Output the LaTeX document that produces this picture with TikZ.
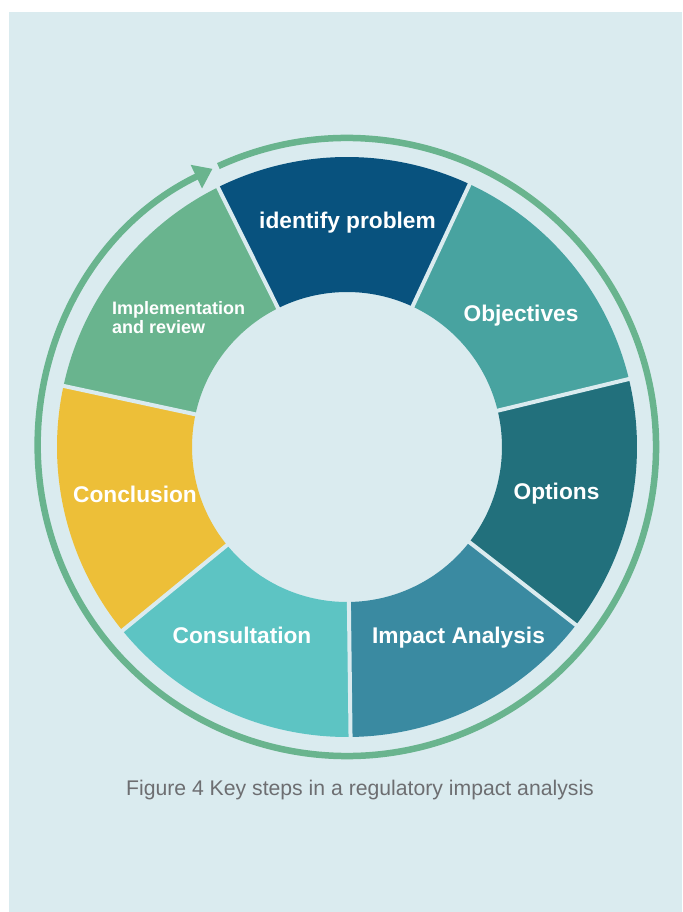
\documentclass[tikz,border=0pt]{standalone}
\usepackage{fontspec}
\setmainfont{Liberation Sans}
\usetikzlibrary{arrows.meta}
\definecolor{bgBlue}{HTML}{DAEBEF}
\definecolor{problemBlue}{HTML}{08527E}
\definecolor{objTeal}{HTML}{48A3A0}
\definecolor{optTeal}{HTML}{22707C}
\definecolor{impactBlue}{HTML}{3A8AA1}
\definecolor{consultCyan}{HTML}{5DC4C3}
\definecolor{conclYellow}{HTML}{EDBF38}
\definecolor{implGreen}{HTML}{69B48E}
\definecolor{captionGray}{HTML}{6D6E71}
\tikzstyle{stepLabel} = [text=white, font=\bfseries\fontsize{22.7}{26}\selectfont, inner sep=0pt, anchor=base]
\tikzstyle{smallLabel} = [text=white, font=\bfseries\fontsize{18}{18.7}\selectfont, inner sep=0pt, align=left, anchor=north west]
\tikzstyle{gap} = [draw=bgBlue, line width=4pt]
\tikzstyle{arrow} = [draw=implGreen, line width=6.5pt, -{Triangle[length=18pt,width=25pt]}]
\tikzstyle{figCaption} = [text=captionGray, font=\fontsize{21.2}{25}\selectfont, inner sep=0pt, anchor=base]
\begin{document}
\begin{tikzpicture}

\useasboundingbox (-347pt,-465pt) rectangle (335pt,447pt);
\fill[bgBlue] (-338pt,-465pt) rectangle (335pt,435pt);

% Ring - the seven steps
\fill[impactBlue] (-89.3:290pt) arc[start angle=-89.3, end angle=-37.87, radius=290pt] -- (-37.87:155pt) arc[start angle=-37.87, end angle=-89.3, radius=155pt] -- cycle;
\fill[optTeal] (-37.87:290pt) arc[start angle=-37.87, end angle=13.56, radius=290pt] -- (13.56:155pt) arc[start angle=13.56, end angle=-37.87, radius=155pt] -- cycle;
\fill[objTeal] (13.56:290pt) arc[start angle=13.56, end angle=64.99, radius=290pt] -- (64.99:155pt) arc[start angle=64.99, end angle=13.56, radius=155pt] -- cycle;
\fill[problemBlue] (64.99:290pt) arc[start angle=64.99, end angle=116.41, radius=290pt] -- (116.41:155pt) arc[start angle=116.41, end angle=64.99, radius=155pt] -- cycle;
\fill[implGreen] (116.41:290pt) arc[start angle=116.41, end angle=167.84, radius=290pt] -- (167.84:155pt) arc[start angle=167.84, end angle=116.41, radius=155pt] -- cycle;
\fill[conclYellow] (167.84:290pt) arc[start angle=167.84, end angle=219.27, radius=290pt] -- (219.27:155pt) arc[start angle=219.27, end angle=167.84, radius=155pt] -- cycle;
\fill[consultCyan] (219.27:290pt) arc[start angle=219.27, end angle=270.7, radius=290pt] -- (270.7:155pt) arc[start angle=270.7, end angle=219.27, radius=155pt] -- cycle;

% Ring - gaps between the steps
\draw[gap] (-89.3:150pt) -- (-89.3:295pt);
\draw[gap] (-37.87:150pt) -- (-37.87:295pt);
\draw[gap] (13.56:150pt) -- (13.56:295pt);
\draw[gap] (64.99:150pt) -- (64.99:295pt);
\draw[gap] (116.41:150pt) -- (116.41:295pt);
\draw[gap] (167.84:150pt) -- (167.84:295pt);
\draw[gap] (219.27:150pt) -- (219.27:295pt);

% Outer cycle arrow
\draw[arrow] (114.6:309pt) arc[start angle=114.6, end angle=-244.2, radius=309pt];

% Step labels
\node (idProblem) [stepLabel] at (0.5pt,218pt) {identify problem};
\node (objectivesLBL) [stepLabel] at (174pt,125pt) {Objectives};
\node (optionsLBL) [stepLabel] at (209.5pt,-53pt) {Options};
\node (impactLBL) [stepLabel] at (111.5pt,-196pt) {Impact Analysis};
\node (consultLBL) [stepLabel] at (-105pt,-196pt) {Consultation};
\node (conclLBL) [stepLabel] at (-212pt,-56pt) {Conclusion};
\node (implLBL) [smallLabel] at (-235pt,145.5pt) {Implementation\\and review};

% Caption
\node (figCap) [figCaption] at (13pt,-348.7pt) {Figure 4 Key steps in a regulatory impact analysis};

\end{tikzpicture}
\end{document}
